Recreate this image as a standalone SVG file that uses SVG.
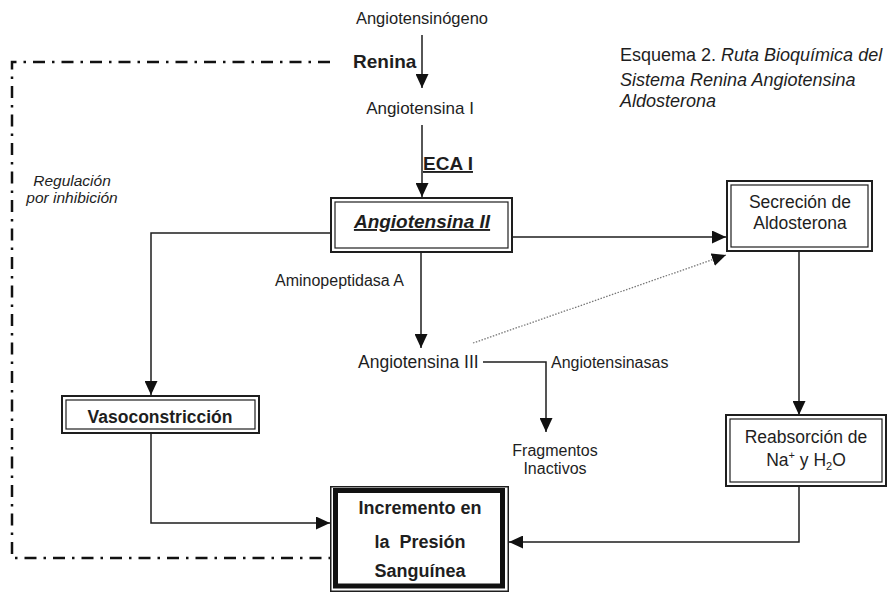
<svg xmlns="http://www.w3.org/2000/svg" width="888" height="594" viewBox="0 0 888 594">
<style>
text{font-family:"Liberation Sans",Arial,sans-serif;fill:#1e1e1e}
.m{text-anchor:middle}
.b{font-weight:bold}
.c{fill:none;stroke:#1e1e1e;stroke-width:1.5}
.o{fill:#fff;stroke:#1e1e1e;stroke-width:2}
.i{fill:none;stroke:#1e1e1e;stroke-width:1.2}
.dd{fill:none;stroke:#111;stroke-width:2.5;stroke-dasharray:12 7 2.5 7}
.dot{fill:none;stroke:#777;stroke-width:1.3;stroke-dasharray:1.5 1.5}
</style>
<defs>
<marker id="a" viewBox="0 0 14 13" markerWidth="14" markerHeight="13" markerUnits="userSpaceOnUse" refX="14" refY="6.5" orient="auto">
<path d="M0,0 L14,6.5 L0,13 Z" fill="#111"/>
</marker>
</defs>
<rect width="888" height="594" fill="#fff"/>

<g id="connectors">
<path class="dd" d="M330,62 H12 V558 H330"/>
<path class="c" d="M422,35 V88" marker-end="url(#a)"/>
<path class="c" d="M422,125 V197" marker-end="url(#a)"/>
<path class="c" d="M330,233 H151 V395" marker-end="url(#a)"/>
<path class="c" d="M512,237 H726" marker-end="url(#a)"/>
<path class="c" d="M421,252 V348" marker-end="url(#a)"/>
<path class="c" d="M483,362 H546 V432" marker-end="url(#a)"/>
<path class="dot" d="M473,343 L726,255" marker-end="url(#a)"/>
<path class="c" d="M799,251 V415" marker-end="url(#a)"/>
<path class="c" d="M799,486 V542 H509" marker-end="url(#a)"/>
<path class="c" d="M151,433 V523 H330" marker-end="url(#a)"/>
</g>

<g id="title">
<text x="620" y="61" font-size="18">Esquema 2. <tspan font-style="italic">Ruta Bioquímica del</tspan></text>
<text x="620" y="86" font-size="18" font-style="italic">Sistema Renina Angiotensina</text>
<text x="620" y="107" font-size="18" font-style="italic">Aldosterona</text>
</g>

<g id="regulacion">
<text x="72" y="186" font-size="15.5" font-style="italic" class="m">Regulación</text>
<text x="72" y="203" font-size="15.5" font-style="italic" class="m">por inhibición</text>
</g>

<g id="angiotensinogeno">
<text x="422" y="24" font-size="16.5" class="m">Angiotensinógeno</text>
</g>
<g id="renina">
<text x="353" y="68" font-size="19" class="b">Renina</text>
</g>
<g id="angiotensina-i">
<text x="420" y="114" font-size="17" class="m">Angiotensina I</text>
</g>
<g id="eca-i">
<text x="423" y="170" font-size="19" class="b" text-decoration="underline">ECA I</text>
</g>

<g id="angiotensina-ii">
<rect class="o" x="331" y="198" width="181" height="54"/>
<rect class="i" x="335" y="202" width="173" height="46"/>
<text x="422" y="228" font-size="19" class="m b" font-style="italic" text-decoration="underline">Angiotensina II</text>
</g>

<g id="secrecion">
<rect class="o" x="727" y="181" width="145" height="70"/>
<rect class="i" x="731" y="185" width="137" height="62"/>
<text x="800" y="208" font-size="17.5" class="m">Secreción de</text>
<text x="800" y="229" font-size="17.5" class="m">Aldosterona</text>
</g>

<g id="aminopeptidasa">
<text x="275" y="286" font-size="16">Aminopeptidasa A</text>
</g>

<g id="angiotensina-iii">
<text x="358" y="368" font-size="17.5">Angiotensina III</text>
</g>

<g id="angiotensinasas">
<text x="551" y="368" font-size="16">Angiotensinasas</text>
</g>

<g id="fragmentos">
<text x="555" y="456" font-size="16" class="m">Fragmentos</text>
<text x="555" y="474" font-size="16" class="m">Inactivos</text>
</g>

<g id="vasoconstriccion">
<rect class="o" x="62" y="396" width="197" height="37"/>
<rect class="i" x="66" y="400" width="189" height="29"/>
<text x="160" y="423" font-size="17.5" class="m b">Vasoconstricción</text>
</g>

<g id="reabsorcion">
<rect class="o" x="726" y="415" width="160" height="71"/>
<rect class="i" x="730" y="419" width="152" height="63"/>
<text x="806" y="443" font-size="17.5" class="m">Reabsorción de</text>
<text x="806" y="466" font-size="17.5" class="m">Na<tspan font-size="11" dy="-7">+</tspan><tspan dy="7"> y H</tspan><tspan font-size="11" dy="4">2</tspan><tspan dy="-4">O</tspan></text>
</g>

<g id="incremento">
<rect x="330.75" y="486.75" width="177.5" height="104.5" fill="#fff" stroke="#1e1e1e" stroke-width="1.5"/>
<rect x="335.5" y="490.5" width="167" height="95.5" fill="none" stroke="#111" stroke-width="5"/>
<text x="420" y="514" font-size="18" class="m b">Incremento en</text>
<text x="420" y="548" font-size="18" class="m b" style="white-space:pre">la  Presión</text>
<text x="420" y="577" font-size="18" class="m b">Sanguínea</text>
</g>
</svg>
